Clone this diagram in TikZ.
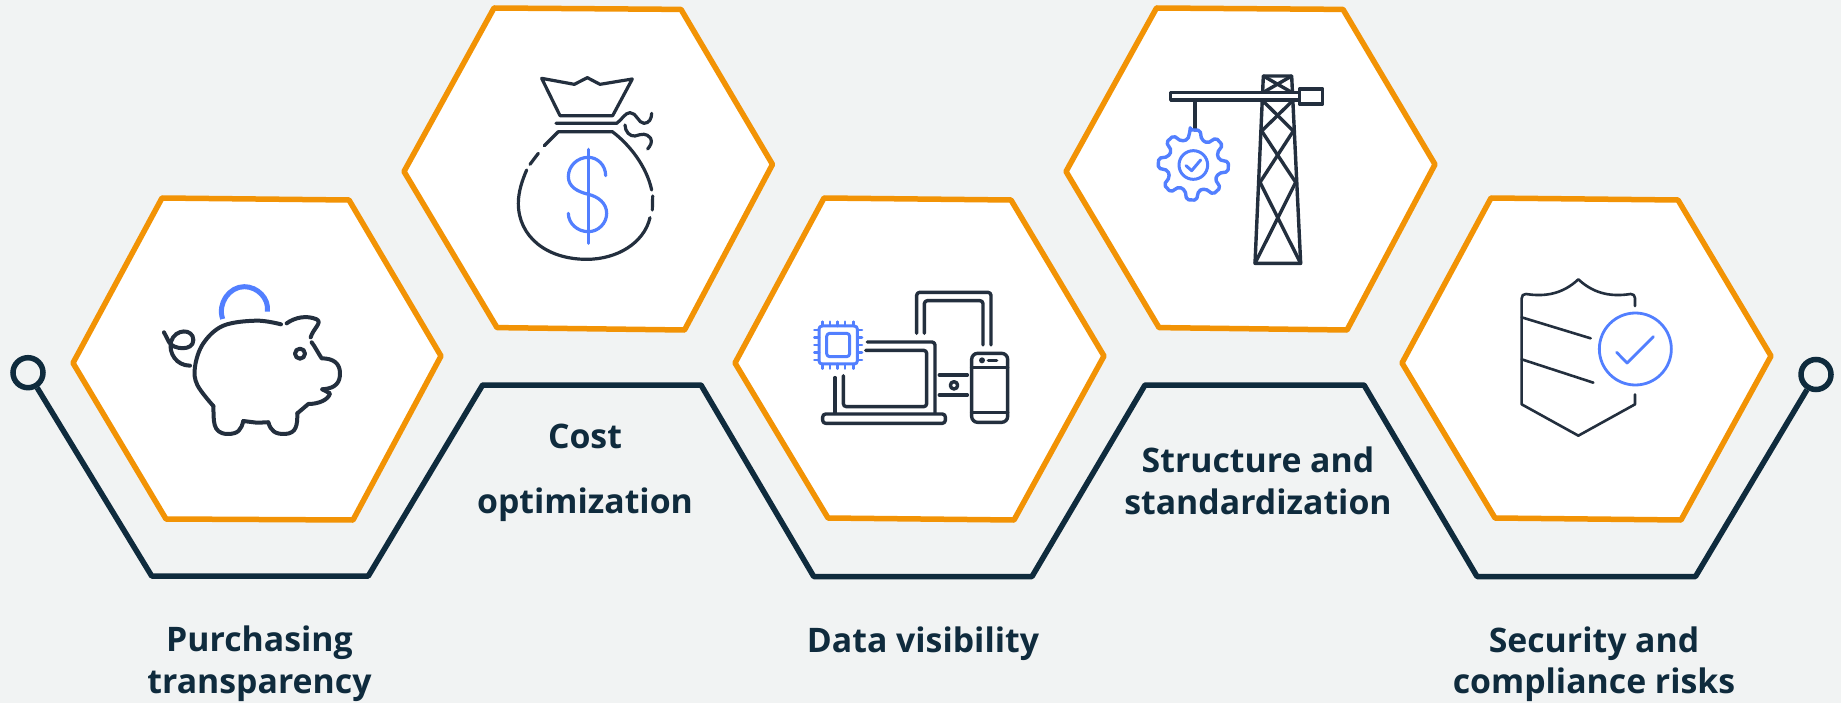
\documentclass[tikz,border=0pt]{standalone}
\usepackage{fontspec}
\setmainfont{Open Sans}
\definecolor{bg}{HTML}{F1F3F3}
\definecolor{hexo}{HTML}{F29305}
\definecolor{navy}{HTML}{0F2B3D}
\definecolor{ink}{HTML}{232F3E}
\definecolor{accent}{HTML}{527FFF}
\tikzset{
  hexbox/.style={draw=hexo,fill=white,line width=5.5pt,line join=round},
  conn/.style={draw=navy,line width=5.5pt,line join=round},
  ringnode/.style={circle,draw=navy,line width=5.5pt,fill=bg,minimum size=30pt,inner sep=0pt},
  lab/.style={font=\fontsize{33.8}{40}\selectfont\bfseries,text=navy,anchor=base,inner sep=0pt},
  ic/.style={draw=ink,line width=#1,line cap=round,line join=round},
  ac/.style={draw=accent,line width=#1,line cap=round,line join=round},
  zoomed/.style={x=0.33333pt,y=-0.33333pt}
}
\begin{document}
\begin{tikzpicture}[x=1pt,y=-1pt]
\useasboundingbox[fill=bg] (0,0) rectangle (1841,703);
% hexagons
\draw[hexbox] (73,363)--(162,198)--(349,200)--(441,356)--(353,520)--(166,519)--cycle;
\draw[hexbox] (404,171.5)--(494,8)--(681,9.4)--(772.5,164.4)--(684.5,330)--(497,327.6)--cycle;
\draw[hexbox] (735,363)--(824,198)--(1011,200)--(1104,356)--(1014,520)--(828,518)--cycle;
\draw[hexbox] (1066,171.5)--(1156.5,8)--(1343,9.4)--(1435,164.4)--(1347,330)--(1159,327.6)--cycle;
\draw[hexbox] (1402,363)--(1491,198)--(1678,200)--(1771,356)--(1681,520)--(1495,518)--cycle;
% connector
\node[ringnode] (startring) at (28,372.7) {};
\node[ringnode] (endring) at (1816,374.5) {};
\coordinate (c1) at (151.7,576);\coordinate (c2) at (368.3,576);
\coordinate (c3) at (482.6,385);\coordinate (c4) at (701,385);
\coordinate (c5) at (813.7,576.5);\coordinate (c6) at (1032,576.5);
\coordinate (c7) at (1145,385);\coordinate (c8) at (1364,385);
\coordinate (c9) at (1477,576.5);\coordinate (c10) at (1695.5,576.5);
\draw[conn] (startring)--(c1)--(c2)--(c3)--(c4)--(c5)--(c6)--(c7)--(c8)--(c9)--(c10)--(endring);
% labels
\node[lab] (l1a) at (259.5,651.7) {Purchasing};
\node[lab] (l1b) at (259.5,693) {transparency};
\node[lab] (l2a) at (585,448) {Cost};
\node[lab] (l2b) at (585,513) {optimization};
\node[lab] (l3) at (923,652.7) {Data visibility};
\node[lab] (l4a) at (1258,472) {Structure and};
\node[lab] (l4b) at (1258,514) {standardization};
\node[lab] (l5a) at (1594,652) {Security and};
\node[lab] (l5b) at (1594,693) {compliance risks};
% piggy
\begin{scope}[shift={(140,260)},zoomed]
\draw[ac=5pt,line cap=butt] (248,177) .. controls (232,130) and (268,80) .. (313,80) .. controls (352,80) and (388,115) .. (382,155);
\draw[ic=4pt] plot[smooth,tension=.6] coordinates {(423,193)(350,182)(250,197)(190,250)(165,320)(172,375)(220,438)};
\draw[ic=4pt] (220,438) .. controls (222,480) and (215,520) .. (262,522) .. controls (295,522) and (303,510) .. (310,483);
\draw[ic=4pt] (310,483)--(350,488)--(385,487);
\draw[ic=4pt] (385,487) .. controls (392,512) and (405,523) .. (435,522) .. controls (470,520) and (472,495) .. (472,460);
\draw[ic=4pt] (472,460)--(505,432) .. controls (535,432) and (565,420) .. (570,400)--(547,388);
\draw[ic=4pt] (547,388) .. controls (590,385) and (600,365) .. (600,340) .. controls (600,310) and (580,295) .. (545,295) .. controls (535,280) and (525,260) .. (515,247);
\draw[ic=4pt] (440,190) .. controls (465,172) and (500,165) .. (530,178) .. controls (548,188) and (520,205) .. (512,232);
\draw[ic=4pt] (480,281) circle (15);
\draw[ic=4pt] (72,217)--(88,248) .. controls (100,268) and (160,275) .. (160,240) .. controls (160,205) and (105,205) .. (93,245) .. controls (85,280) and (110,317) .. (150,317);
\end{scope}
% money bag
\begin{scope}[shift={(490,60)},zoomed]
\draw[ic=3.2pt] (155,55)--(253,73)--(292,53)--(330,73)--(427,57)--(368,167)--(210,167)--cycle;
\draw[ic=3.2pt] (198,190)--(380,190) .. controls (395,180) and (405,158) .. (420,158) .. controls (440,158) and (445,190) .. (462,190) .. controls (478,190) and (485,175) .. (485,160);
\draw[ic=3.2pt] (405,195) .. controls (405,215) and (420,230) .. (435,228) .. controls (455,222) and (470,218) .. (482,235) .. controls (488,248) and (480,258) .. (473,267);
\draw[ic=3.2pt] (163,257)--(205,215)--(367,215) .. controls (420,255) and (470,320) .. (485,390);
\draw[ic=3.2pt] (488,408)--(487,450);
\draw[ic=3.2pt] (480,473) .. controls (462,550) and (380,598) .. (290,598) .. controls (170,598) and (85,530) .. (85,430) .. controls (85,395) and (97,360) .. (110,330);
\draw[ic=3.2pt] (120,313)--(145,280);
\draw[ac=3.2pt] (296,268)--(296,550);
\draw[ac=3.2pt] (347,347) .. controls (347,315) and (322,292) .. (295,292) .. controls (262,292) and (235,318) .. (235,350) .. controls (235,380) and (262,395) .. (295,403) .. controls (325,410) and (350,430) .. (350,460) .. controls (350,490) and (325,515) .. (295,515) .. controls (262,515) and (235,490) .. (235,460);
\end{scope}
% devices
\begin{scope}[shift={(800,280)},zoomed]
\begin{scope}[rounded corners=3pt]
\draw[ic=3.4pt] (350,160)--(350,37)--(573,37)--(573,195);
\draw[ic=3.4pt] (373,160)--(373,62)--(549,62)--(549,195);
\draw[ic=3.4pt] (202,186)--(405,186)--(405,400);
\draw[ic=3.4pt] (197,211)--(380,211)--(380,380)--(130,380)--(130,287);
\draw[ic=3.4pt] (68,402)--(436,402)--(436,430)--(68,430)--cycle;
\draw[ic=3.4pt,rounded corners=6pt] (515,220)--(623,220)--(623,427)--(515,427)--cycle;
\end{scope}
\draw[ic=3.4pt] (105,293)--(105,400);
\draw[ic=3.4pt] (418,285)--(502,285);
\draw[ic=3.4pt] (418,345)--(502,345);
\draw[ic=3.4pt] (462,316) circle (11);
\draw[ic=3.4pt] (515,263)--(623,263);
\draw[ic=3.4pt] (515,398)--(623,398);
\fill[ink] (546,241) circle (9);
\draw[ic=3.4pt] (565,241)--(590,241);
\draw[ac=3pt,rounded corners=3pt] (57,138) rectangle (172,252);
\draw[ac=3pt,rounded corners=3pt] (80,160) rectangle (149,230);
\foreach \p in {68,90,112,135,160}{
  \draw[ac=2.6pt] (\p,125)--(\p,138);
  \draw[ac=2.6pt] (\p,252)--(\p,266);
}
\foreach \p in {150,172,195,217,240}{
  \draw[ac=2.6pt] (43,\p)--(57,\p);
  \draw[ac=2.6pt] (172,\p)--(186,\p);
}
\end{scope}
% crane
\begin{scope}[shift={(1140,60)},zoomed]
\draw[ic=3.4pt] (370,48)--(345,610)--(482,610)--(455,48)--cycle;
\draw[ic=3.4pt] (370,48)--(455,97);
\draw[ic=3.4pt] (455,48)--(370,97);
\draw[ic=3.4pt] (366,120)--(460,213)--(360,367)--(482,610);
\draw[ic=3.4pt] (460,120)--(365,213)--(467,367)--(345,610);
\draw[ic=3.4pt,fill=white] (92,97) rectangle (478,120);
\draw[ic=3.4pt,fill=white] (478,87) rectangle (548,132);
\draw[ic=3.4pt] (165,120)--(165,210);
\begin{scope}[shift={(160,315)}]
\draw[ac=3.4pt,rounded corners=2pt] (-95:106)
  \foreach \a in {0,45,...,315}{
    -- (\a-95:106) -- (\a-79:106) -- (\a-72:80) -- (\a-57:78)
  } -- cycle;
\draw[ac=3pt] (0,0) circle (43);
\draw[ac=3pt] (-22,2)--(-5,17)--(22,-15);
\end{scope}
\end{scope}
% shield
\begin{scope}[shift={(1500,270)},zoomed]
\draw[ic=2.6pt] (405,108)--(405,85) .. controls (405,76) and (400,72) .. (392,72) .. controls (340,80) and (285,75) .. (235,28) .. controls (185,75) and (130,80) .. (78,72) .. controls (70,72) and (65,76) .. (65,85)--(65,403)--(235,497)--(405,403)--(405,373);
\draw[ic=2.6pt] (65,142)--(272,205);
\draw[ic=2.6pt] (65,268)--(280,338);
\draw[ac=2.8pt] (406,237) circle (108);
\draw[ac=2.8pt] (350,247)--(381,279)--(460,200);
\end{scope}
\end{tikzpicture}
\end{document}
